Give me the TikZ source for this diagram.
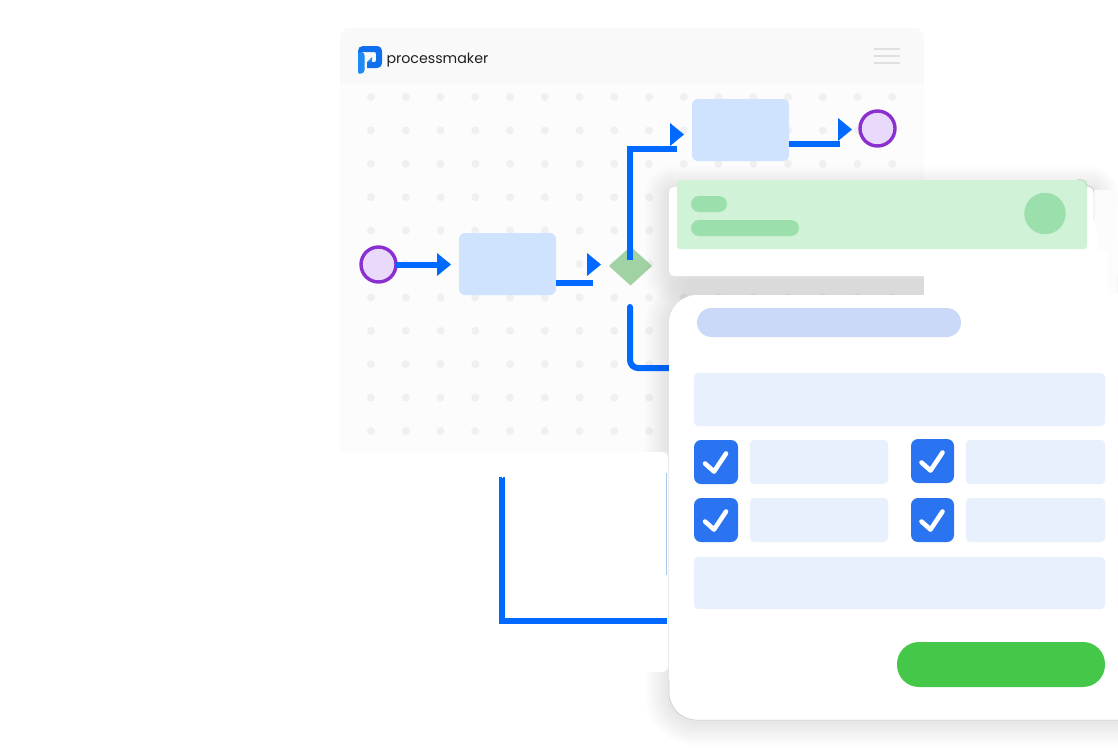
\documentclass[tikz,border=0pt]{standalone}
\usepackage{fontspec}
\setmainfont{Poppins}
\usetikzlibrary{shapes.geometric,calc}
\definecolor{flowblue}{HTML}{0069FF}
\definecolor{taskblue}{HTML}{CFE3FF}
\definecolor{eventline}{HTML}{8A2FD0}
\definecolor{eventfill}{HTML}{E9DAFC}
\definecolor{gatefill}{HTML}{A0D2A3}
\definecolor{headgrey}{HTML}{F9F9F9}
\definecolor{dotgrey}{HTML}{F0F0F0}
\definecolor{bandgreen}{HTML}{D0F2D6}
\definecolor{pillgreen}{HTML}{9BDFAC}
\definecolor{formblue}{HTML}{E8EFFD}
\definecolor{titleblue}{HTML}{CBD9F8}
\definecolor{checkblue}{HTML}{2A74F2}
\definecolor{btngreen}{HTML}{45C84A}
\definecolor{logoA}{HTML}{1E8BF5}
\definecolor{logoB}{HTML}{0F6FEF}
\tikzset{
  block/.style={draw=none,inner sep=0pt,outer sep=0pt,rectangle},
  taskbox/.style={block,fill=taskblue,rounded corners=6pt,minimum width=97pt,minimum height=62pt},
  eventnode/.style={circle,draw=eventline,line width=3.4pt,fill=eventfill,inner sep=0pt,outer sep=0pt,minimum size=35pt},
  flowline/.style={draw=flowblue,line width=6pt},
  flowtip/.style={fill=flowblue,draw=none},
  field/.style={block,fill=formblue,rounded corners=4pt},
  checkbox/.style={block,fill=checkblue,rounded corners=7pt,minimum width=44pt,minimum height=44pt},
  checkmark/.style={draw=white,line width=4.6pt,line cap=round,line join=round},
  pill/.style={block,rounded corners=8pt},
  burger/.style={draw=black!12,line width=1.4pt},
}
\newcommand{\softshadow}[5]{%
  \foreach \i in {1,...,12}{%
    \fill[black,opacity=0.007,rounded corners={#5+2*\i}]
      ({#1-2*\i},{#2-2*\i}) rectangle ({#3+2*\i},{#4+2*\i});
  }}
\newcommand{\tipat}[2]{\fill[flowtip] ($(#1)+(#2,-11.5)$) -- ($(#1)+(#2,11.5)$) -- ($(#1)+(#2+14,0)$) -- cycle;}
\begin{document}
\begin{tikzpicture}[x=1pt,y=-1pt]
\useasboundingbox (0,0) rectangle (1118,750);
\clip (0,0) rectangle (1118,750);
\fill[white] (0,0) rectangle (1118,750);
% panel
\fill[black!1] (340,84) rectangle (924,452);
\fill[headgrey,rounded corners=10pt] (340,28) rectangle (924,60);
\fill[headgrey] (340,50) rectangle (924,84);
% dots
\foreach \r in {0,...,10}{
  \foreach \c in {0,...,15}{
    \fill[dotgrey] ({371+34.75*\c},{97+33.4*\r}) circle (4pt);
  }
}
% logo
\fill[logoA] (358,72) .. controls (358,73.5) and (359,74) .. (361,73.6)
  .. controls (363.5,73) and (364.5,72) .. (364.5,70) -- (364.5,55.5)
  .. controls (364.5,53.5) and (363.5,52.5) .. (361.5,52) -- (358,51) -- cycle;
\fill[logoB] (358,51) .. controls (358,48) and (360,46) .. (363,46) -- (376,46)
  .. controls (380,46) and (382,48) .. (382,52) -- (382,62)
  .. controls (382,66) and (380,68) .. (376,68) -- (367,68)
  -- (367,62) -- (374,62) .. controls (375.5,62) and (376,61.5) .. (376,60) -- (376,54)
  .. controls (376,52.5) and (375.5,52) .. (374,52) -- (361,52) .. controls (359,52) and (358,52) .. (358,54) -- cycle;
\fill[logoA] (367,62) -- (372,57) -- (372,62) -- cycle;
\node[block,anchor=base west,font=\fontsize{14.2pt}{16pt}\selectfont,text=black!88] (brand) at (386.5,63) {processmaker};
\draw[burger] (874,49) -- (900,49);
\draw[burger] (874,56) -- (900,56);
\draw[burger] (874,63) -- (900,63);
% flow nodes
\node[eventnode] (start) at (378.5,264.5) {};
\node[taskbox] (taskA) at (507.5,264) {};
\node[block,diamond,fill=gatefill,minimum width=43pt,minimum height=39pt,aspect=1.1] (gate) at (630.5,266) {};
\node[taskbox] (taskB) at (740.5,130) {};
\node[eventnode] (end) at (877.5,128.5) {};
\coordinate (tipA) at (438,264.5);
\coordinate (tipB) at (593,283);
\coordinate (tipC) at (677,149);
\coordinate (tipD) at (840,144);
\coordinate (gateUp) at (630,260);
\coordinate (gateDown) at (630,307);
\coordinate (cardEntry) at (672,368);
\draw[flowline] (start.east) -- (tipA);
\tipat{tipA}{-1}
\draw[flowline] ([yshift=-19pt]taskA.east) -- (tipB);
\fill[flowtip] (587,253) -- (587,276) -- (601,264.5) -- cycle;
\draw[flowline] (gateUp) -- (630,149) -- (tipC);
\fill[flowtip] (670,123) -- (670,146) -- (684,134.5) -- cycle;
\draw[flowline] ([yshift=-14pt]taskB.east) -- (tipD);
\fill[flowtip] (838,118) -- (838,141) -- (852,129.5) -- cycle;
\draw[flowline,line cap=round,rounded corners=8pt] (gateDown) -- (630,368) -- (cardEntry);
% shadows
\softshadow{669}{190}{1094}{279}{4}
\softshadow{669}{295}{1160}{722}{28}
\fill[black!1.2] (1094,190) -- (1114,190) -- (1118,300) -- (1108,295) -- (1094,225) -- cycle;
% white covers
\fill[white,rounded corners=6pt] (470,452) rectangle (668,672);
\fill[white] (924,250) rectangle (1108,296);
\fill[white] (924,250) -- (1094,220) -- (1108,295) -- (924,296) -- cycle;
% partial connector behind the form
\coordinate (lowA) at (502,477);
\coordinate (lowB) at (667,620.5);
\draw[flowline,line join=miter] (lowA) -- (502,620.5) -- (lowB);
\draw[draw=black!0,line width=0pt] (lowA) -- (lowA);
\coordinate (thinA) at (666.5,473);
\coordinate (thinB) at (666.5,575);
\draw[draw={rgb,255:red,168;green,200;blue,238},line width=1.6pt] (thinA) -- (thinB);
% green card
\fill[white,rounded corners=5pt] (669,187) rectangle (1094,276);
\node[block,fill=bandgreen,rounded corners=3pt,minimum width=410pt,minimum height=69pt] (band) at (882,214.5) {};
\node[pill,fill=pillgreen,minimum width=36pt,minimum height=16pt] (pillA) at (709,204) {};
\node[pill,fill=pillgreen,minimum width=108pt,minimum height=16pt] (pillB) at (745,228) {};
\node[block,circle,fill=pillgreen,minimum size=41.5pt] (avatar) at (1045,213.5) {};
\draw[black!28,line width=.4pt] (1078,179.5) .. controls (1083,179.5) and (1086,181) .. (1087,186);
\draw[black!28,line width=.4pt] (1087,186) .. controls (1092,186) and (1094,189) .. (1094,194) -- (1094,220);
\draw[black!28,line width=.4pt] (1108,296) -- (1118,303);
% main card
\fill[white,rounded corners=28pt] (669,295) rectangle (1160,720);
\draw[black!22,line width=.5pt] (669,680) -- (669,692) .. controls (669,708) and (681,720) .. (697,720) -- (1118,720);
\node[block,fill=titleblue,rounded corners=14.5pt,minimum width=264pt,minimum height=29pt] (title) at (829,322.5) {};
\node[field,minimum width=411pt,minimum height=53pt] (fieldTop) at (899.5,399.5) {};
\node[checkbox] (boxA) at (716,462) {};
\node[field,minimum width=138pt,minimum height=44pt] (labelA) at (819,462) {};
\node[checkbox,minimum width=43pt] (boxB) at (932.5,461) {};
\node[field,minimum width=139pt,minimum height=44pt] (labelB) at (1035.5,462) {};
\node[checkbox] (boxC) at (716,520) {};
\node[field,minimum width=138pt,minimum height=44pt] (labelC) at (819,520) {};
\node[checkbox,minimum width=43pt] (boxD) at (932.5,520) {};
\node[field,minimum width=139pt,minimum height=44pt] (labelD) at (1035.5,520) {};
\node[field,minimum width=411pt,minimum height=52pt] (fieldBottom) at (899.5,583) {};
\node[block,fill=btngreen,rounded corners=22pt,minimum width=208pt,minimum height=45pt] (submit) at (1001,664.5) {};
\foreach \b in {boxA,boxB,boxC,boxD}{
  \draw[checkmark] ($(\b)+(-11,1.5)$) -- ($(\b)+(-2,9.5)$) -- ($(\b)+(10,-8.5)$);
}
\end{tikzpicture}
\end{document}
